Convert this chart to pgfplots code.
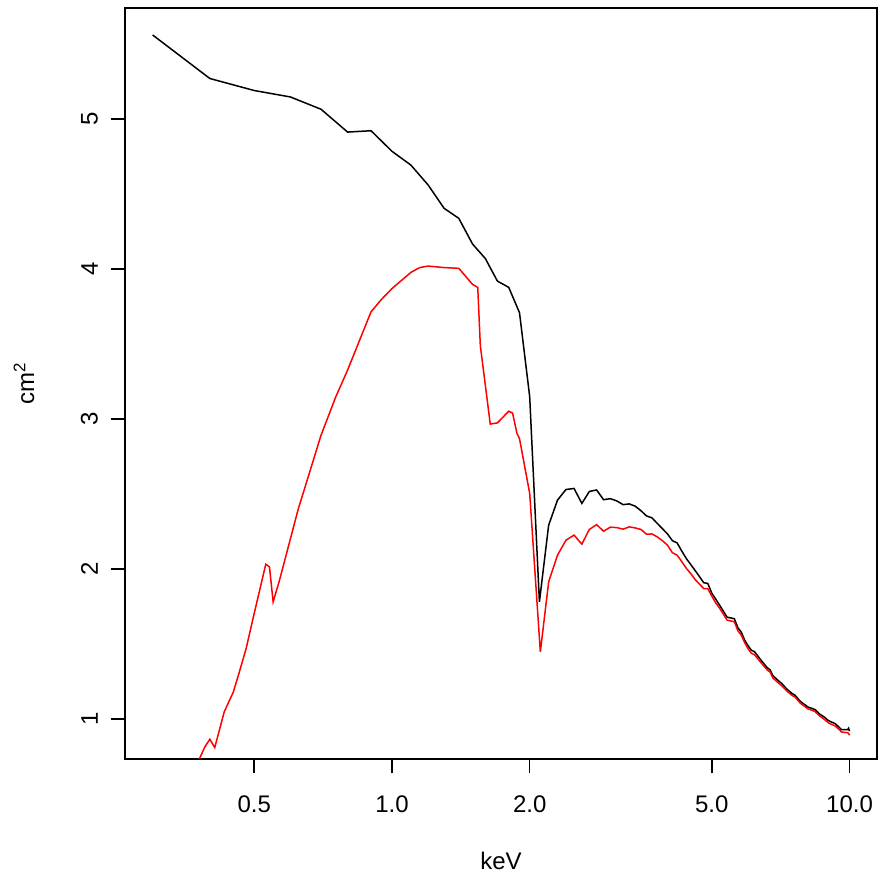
\documentclass[border=0pt]{standalone}
\usepackage{pgfplots}
\pgfplotsset{compat=1.18}
\usepackage{fontspec}
\setmainfont{Liberation Sans}
\begin{document}
\fontsize{12bp}{14.4bp}\selectfont
\begin{tikzpicture}
\begin{axis}[
  scale only axis,
  width=376bp, height=375.5bp,
  xmode=log, log basis x=10,
  xmin=0.261, xmax=11.48,
  ymin=0.735, ymax=5.74,
  xtick={0.5,1,2,5,10},
  xticklabels={0.5,1.0,2.0,5.0,10.0},
  minor xtick={},
  ytick={1,2,3,4,5},
  yticklabels={1,2,3,4,5},
  tick align=outside,
  xtick pos=lower, ytick pos=left,
  major tick length=7.2bp,
  every tick/.style={black, line width=0.75bp},
  axis line style={black, line width=0.75bp},
  /pgf/number format/assume math mode=true,
  tick label style={font=\fontsize{12bp}{14.4bp}\selectfont},
  xticklabel style={anchor=north, inner sep=0pt},
  xticklabel shift=11bp,
  yticklabel style={rotate=90, anchor=south, inner sep=0pt},
  yticklabel shift=6.2bp,
  xlabel={keV},
  ylabel={cm\textsuperscript{2}},
  label style={font=\fontsize{12bp}{14.4bp}\selectfont, inner sep=0pt},
  xlabel style={at={(axis description cs:0.5,-0.1465)}, anchor=base},
  ylabel style={at={(axis description cs:-0.121,0.5)}, anchor=base, rotate=0},
  clip=true,
]
\addplot[black, line width=0.75bp] coordinates {
(0.3,5.56) (0.4,5.27) (0.5,5.19) (0.6,5.147) (0.7,5.065) (0.8,4.913) (0.9,4.922)
(1.0,4.785) (1.1,4.693) (1.2,4.56) (1.3,4.405) (1.4,4.338) (1.5,4.167) (1.6,4.07)
(1.7,3.92) (1.8,3.878) (1.9,3.709) (2.0,3.15) (2.1,1.782) (2.2,2.293) (2.3,2.46)
(2.4,2.531) (2.5,2.538) (2.6,2.438) (2.7,2.518) (2.8,2.528) (2.9,2.463) (3.0,2.47)
(3.1,2.455) (3.2,2.43) (3.3,2.435) (3.4,2.42) (3.5,2.39) (3.6,2.355) (3.7,2.342)
(3.8,2.305) (3.9,2.27) (4.0,2.235) (4.1,2.19) (4.2,2.175) (4.3,2.12) (4.4,2.07)
(4.5,2.03) (4.6,1.99) (4.7,1.95) (4.8,1.91) (4.9,1.905) (5.0,1.84) (5.1,1.80)
(5.2,1.76) (5.3,1.72) (5.4,1.68) (5.5,1.675) (5.6,1.67) (5.7,1.61) (5.8,1.58)
(5.9,1.527) (6.0,1.49) (6.1,1.46) (6.2,1.45) (6.4,1.395) (6.6,1.345) (6.7,1.33)
(6.8,1.29) (7.0,1.255) (7.1,1.24) (7.3,1.20) (7.5,1.17) (7.6,1.16) (7.8,1.12)
(8.0,1.095) (8.1,1.082) (8.4,1.065) (8.6,1.035) (8.8,1.015) (9.0,0.99) (9.3,0.971)
(9.5,0.945) (9.6,0.93) (9.9,0.93) (9.95,0.94) (10.0,0.92)
};
\addplot[red, line width=0.75bp] coordinates {
(0.3,0.2) (0.36,0.6) (0.38,0.74) (0.39,0.815) (0.40,0.867) (0.41,0.811) (0.43,1.049)
(0.45,1.18) (0.463,1.305) (0.48,1.47) (0.50,1.705) (0.53,2.033) (0.54,2.015)
(0.55,1.782) (0.568,1.927) (0.624,2.40) (0.7,2.893) (0.754,3.149) (0.8,3.327)
(0.9,3.715) (0.95,3.80) (1.0,3.87) (1.1,3.978) (1.15,4.01) (1.2,4.02) (1.3,4.01)
(1.4,4.005) (1.5,3.898) (1.54,3.878) (1.56,3.49) (1.64,2.967) (1.70,2.975)
(1.80,3.053) (1.835,3.04) (1.876,2.905) (1.9,2.87) (2.0,2.505) (2.11,1.449)
(2.2,1.915) (2.3,2.093) (2.4,2.193) (2.5,2.227) (2.6,2.167) (2.7,2.265) (2.8,2.297)
(2.9,2.253) (3.0,2.28) (3.1,2.277) (3.2,2.267) (3.3,2.282) (3.4,2.275) (3.5,2.265)
(3.6,2.233) (3.7,2.235) (3.8,2.215) (3.9,2.19) (4.0,2.16) (4.1,2.11) (4.2,2.093)
(4.3,2.05) (4.4,2.005) (4.5,1.97) (4.6,1.93) (4.7,1.90) (4.8,1.871) (4.9,1.87)
(5.0,1.82) (5.1,1.775) (5.2,1.74) (5.3,1.70) (5.4,1.66) (5.5,1.655) (5.6,1.65)
(5.7,1.59) (5.8,1.56) (5.9,1.51) (6.0,1.47) (6.1,1.44) (6.2,1.43) (6.4,1.378)
(6.6,1.33) (6.7,1.315) (6.8,1.275) (7.0,1.24) (7.1,1.225) (7.3,1.187) (7.5,1.157)
(7.6,1.148) (7.8,1.108) (8.0,1.083) (8.1,1.07) (8.4,1.052) (8.6,1.022) (8.8,1.0)
(9.0,0.975) (9.3,0.955) (9.5,0.93) (9.6,0.915) (9.9,0.91) (9.95,0.905) (10.0,0.893)
};
\end{axis}
\pgfresetboundingbox
\path ([shift={(-62.5bp,-59bp)}]current axis.south west) rectangle ([shift={(6.5bp,4bp)}]current axis.north east);
\end{tikzpicture}
\end{document}
